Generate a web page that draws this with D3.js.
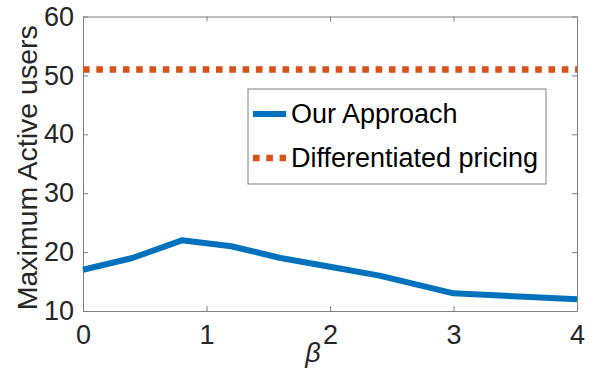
<!DOCTYPE html>
<html>
<head>
<meta charset="utf-8">
<script src="https://cdn.jsdelivr.net/npm/d3@7"></script>
<style>
    body { margin: 0; background: #fff; }
    text { font-family: "Liberation Sans", Arial, sans-serif; }
</style>
</head>
<body>
<div id="chart"></div>
<script>
// data
const betaValues = [0, 0.4, 0.8, 1.2, 1.6, 2.0, 2.4, 3.0, 4.0];
const ourApproach = [17, 19, 22, 21, 19, 17.5, 16, 13, 12];
const diffPricing = [51, 51];
const diffBeta = [0, 4];
const xTicks = [0, 1, 2, 3, 4];
const yTicks = [10, 20, 30, 40, 50, 60];
const seriesNames = ["Our Approach", "Differentiated pricing"];

const W = 598, H = 374;
const margin = {top: 16.5, right: 21, bottom: 63, left: 83};
const width = W - margin.left - margin.right;
const height = H - margin.top - margin.bottom;

const svg = d3.select("#chart").append("svg")
    .attr("width", W)
    .attr("height", H);

const g = svg.append("g")
    .attr("transform", `translate(${margin.left},${margin.top})`);

const x = d3.scaleLinear().domain([0, 4]).range([0, width]);
const y = d3.scaleLinear().domain([10, 60]).range([height, 0]);

const axisColor = "#808080";
const textColor = "#262626";

// box axes, ticks pointing inward on all four sides
function styleAxis(sel) {
    sel.select(".domain").attr("stroke", axisColor).attr("stroke-width", 1);
    sel.selectAll(".tick line").attr("stroke", axisColor);
    sel.selectAll(".tick text").attr("fill", textColor)
        .attr("font-size", "27px")
        .attr("font-family", "'Liberation Sans', Arial, sans-serif");
}

g.append("g")
    .attr("transform", `translate(0,${height})`)
    .call(d3.axisBottom(x).tickValues(xTicks).tickSizeInner(-5).tickSizeOuter(0).tickPadding(14).tickFormat(d3.format("d")))
    .call(styleAxis);

g.append("g")
    .call(d3.axisTop(x).tickValues(xTicks).tickSizeInner(-5).tickSizeOuter(0).tickFormat(""))
    .call(styleAxis);

g.append("g")
    .call(d3.axisLeft(y).tickValues(yTicks).tickSizeInner(-5).tickSizeOuter(0).tickPadding(9))
    .call(styleAxis);

g.append("g")
    .attr("transform", `translate(${width},0)`)
    .call(d3.axisRight(y).tickValues(yTicks).tickSizeInner(-5).tickSizeOuter(0).tickFormat(""))
    .call(styleAxis);

// series
const line = d3.line()
    .x(d => x(d[0]))
    .y(d => y(d[1]));

g.append("path")
    .datum(d3.zip(diffBeta, diffPricing))
    .attr("d", line)
    .attr("fill", "none")
    .attr("stroke", "#D95319")
    .attr("stroke-width", 6.5)
    .attr("stroke-dasharray", "6.6,6.7");

g.append("path")
    .datum(d3.zip(betaValues, ourApproach))
    .attr("d", line)
    .attr("fill", "none")
    .attr("stroke", "#0072BD")
    .attr("stroke-width", 6)
    .attr("stroke-linejoin", "round");

// axis labels
svg.append("text")
    .attr("transform", `translate(37,${margin.top + height / 2 + 4}) rotate(-90)`)
    .attr("text-anchor", "middle")
    .attr("font-size", "28.5px")
    .attr("fill", textColor)
    .text("Maximum Active users");

svg.append("text")
    .attr("x", 313)
    .attr("y", 362)
    .attr("text-anchor", "middle")
    .attr("font-size", "27px")
    .attr("font-style", "italic")
    .attr("font-family", "'DejaVu Serif', serif")
    .attr("font-weight", 300)
    .attr("fill", textColor)
    .text("β");

// legend
const legend = svg.append("g").attr("transform", "translate(248,89)");
legend.append("rect")
    .attr("width", 298)
    .attr("height", 95)
    .attr("fill", "#fff")
    .attr("stroke", axisColor)
    .attr("stroke-width", 1);

const legendRows = [
    {name: seriesNames[0], color: "#0072BD", dash: null, w: 6},
    {name: seriesNames[1], color: "#D95319", dash: "6.6,6.7", w: 6.5}
];

legendRows.forEach((r, i) => {
    let cy = 25 + i * 44;
    legend.append("line")
        .attr("x1", 5).attr("x2", 38)
        .attr("y1", cy).attr("y2", cy)
        .attr("stroke", r.color)
        .attr("stroke-width", r.w)
        .attr("stroke-dasharray", r.dash);
    legend.append("text")
        .attr("x", 43)
        .attr("y", cy)
        .attr("dy", "0.35em")
        .attr("font-size", "27px")
        .attr("fill", "#000")
        .text(r.name);
});
</script>
</body>
</html>
